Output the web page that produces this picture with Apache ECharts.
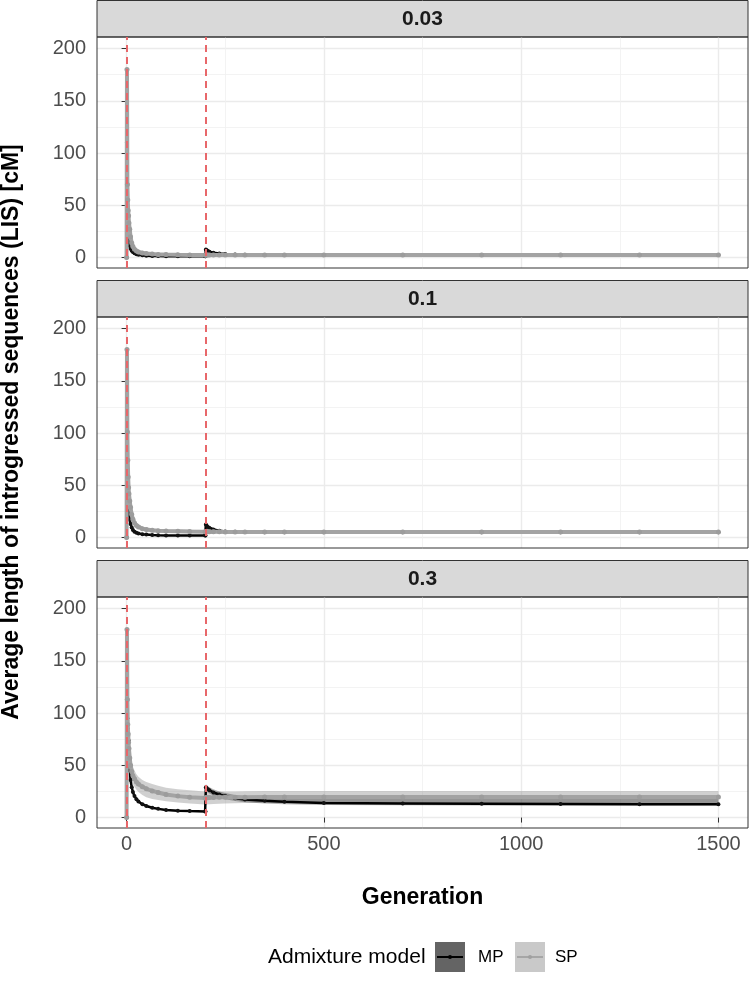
<!DOCTYPE html>
<html>
<head>
<meta charset="utf-8">
<script src="https://cdn.jsdelivr.net/npm/echarts@6/dist/echarts.min.js"></script>
<style>
  html, body { margin: 0; padding: 0; background: #fff; }
  #chart { width: 750px; height: 984px; }
</style>
</head>
<body>
<div id="chart"></div>
<script>
const GEN = [0, 1, 2, 3, 4, 5, 6, 8, 10, 13, 16, 20, 25, 30, 40, 50, 65, 80, 100, 130,
  160, 199, 200, 201, 203, 206, 210, 220, 235, 250, 275, 300, 350, 400, 500, 700, 900, 1100, 1300, 1500];

const X_TICKS = [0, 500, 1000, 1500];
const X_MINOR = [250, 750, 1250];
const Y_TICKS = [0, 50, 100, 150, 200];
const Y_MINOR = [25, 75, 125, 175];
const PULSES = [0, 200];
const PANEL_LABELS = ['0.03', '0.1', '0.3'];

// panel 0.03
const sp003Mean = [0, 180, 70, 55, 45, 40, 33, 27, 20, 14, 10.5, 8, 6.3, 5.3, 4.3, 3.8, 3.3, 3.0, 2.8, 2.6,
  2.5, 2.4, 2.4, 2.4, 2.4, 2.4, 2.4, 2.4, 2.4, 2.4, 2.4, 2.4, 2.4, 2.4, 2.4, 2.4, 2.4, 2.4, 2.4, 2.4];
const sp003Low = [0, 178, 66, 51, 41, 36, 29, 23, 16.5, 11.5, 8.5, 6.3, 4.9, 4.1, 3.2, 2.7, 2.3, 2.0, 1.7, 1.5,
  1.4, 1.2, 1.2, 1.2, 1.2, 1.2, 1.2, 1.2, 1.2, 1.2, 1.2, 1.2, 1.1, 1.1, 1.1, 1.1, 1.1, 1.1, 1.1, 1.1];
const sp003High = [0, 182, 74, 59, 49, 44, 37, 31, 23.5, 16.5, 12.5, 9.7, 7.7, 6.5, 5.4, 4.9, 4.3, 4.0, 3.9, 3.7,
  3.6, 3.6, 3.6, 3.6, 3.6, 3.6, 3.6, 3.6, 3.6, 3.6, 3.6, 3.6, 3.7, 3.7, 3.7, 3.7, 3.7, 3.7, 3.7, 3.7];
const mp003Mean = [0, 110, 40, 28, 22, 18, 15, 11, 8.5, 6.5, 5.2, 4.0, 3.2, 2.7, 2.1, 1.8, 1.5, 1.4, 1.3, 1.2,
  1.2, 1.2, 1.2, 7.8, 7.0, 6.3, 5.6, 4.6, 3.8, 3.3, 2.9, 2.7, 2.5, 2.4, 2.4, 2.4, 2.4, 2.4, 2.4, 2.4];
const mp003Low = [0, 108, 37, 25.5, 20, 16, 13, 9.5, 7.3, 5.5, 4.4, 3.3, 2.6, 2.2, 1.7, 1.4, 1.2, 1.1, 1.0, 0.9,
  0.9, 0.9, 0.9, 6.0, 5.3, 4.8, 4.2, 3.5, 2.9, 2.6, 2.3, 2.1, 2.0, 1.9, 1.9, 1.9, 1.9, 1.9, 1.9, 1.9];
const mp003High = [0, 112, 43, 30.5, 24, 20, 17, 12.5, 9.7, 7.5, 6.0, 4.7, 3.8, 3.2, 2.5, 2.2, 1.8, 1.7, 1.6, 1.5,
  1.5, 1.5, 1.5, 9.2, 8.4, 7.6, 6.8, 5.6, 4.6, 4.0, 3.5, 3.3, 3.0, 2.9, 2.9, 2.9, 2.9, 2.9, 2.9, 2.9];

// panel 0.1
const sp01Mean = [0, 180, 101, 74, 58, 48, 42, 35, 29, 22, 17.5, 14, 11.5, 10, 8.5, 7.6, 6.9, 6.5, 6.2, 6.0,
  5.8, 5.6, 5.6, 5.6, 5.6, 5.5, 5.5, 5.5, 5.5, 5.4, 5.4, 5.4, 5.3, 5.3, 5.3, 5.3, 5.3, 5.3, 5.3, 5.3];
const sp01Low = [0, 178, 97, 70, 54, 44, 38, 31, 25, 18.5, 14.5, 11.5, 9.3, 8.0, 6.7, 5.9, 5.3, 4.9, 4.6, 4.4,
  4.2, 4.0, 4.0, 4.0, 4.0, 3.9, 3.9, 3.9, 3.9, 3.9, 3.8, 3.8, 3.8, 3.8, 3.8, 3.8, 3.8, 3.8, 3.8, 3.8];
const sp01High = [0, 182, 105, 78, 62, 52, 46, 39, 33, 25.5, 20.5, 16.5, 13.7, 12, 10.3, 9.3, 8.5, 8.1, 7.8, 7.6,
  7.4, 7.2, 7.2, 7.2, 7.2, 7.1, 7.1, 7.1, 7.0, 7.0, 7.0, 6.9, 6.9, 6.8, 6.8, 6.8, 6.8, 6.8, 6.8, 6.8];
const mp01Mean = [0, 100, 57, 41, 33, 27, 23, 17, 13, 9.5, 7.3, 5.6, 4.5, 3.9, 3.2, 2.8, 2.4, 2.1, 1.9, 1.9,
  2.0, 2.0, 2.0, 12.5, 11.3, 10.2, 9.2, 7.7, 6.5, 5.9, 5.5, 5.3, 5.1, 5.0, 5.0, 5.0, 5.0, 5.0, 5.0, 5.0];
const mp01Low = [0, 98, 54, 38.5, 30.5, 25, 21, 15.5, 11.8, 8.5, 6.5, 5.0, 3.9, 3.4, 2.7, 2.3, 2.0, 1.7, 1.5, 1.5,
  1.6, 1.6, 1.6, 10.5, 9.5, 8.6, 7.7, 6.4, 5.4, 4.9, 4.5, 4.3, 4.1, 4.0, 4.0, 4.0, 4.0, 4.0, 4.0, 4.0];
const mp01High = [0, 102, 60, 43.5, 35.5, 29, 25, 18.5, 14.2, 10.5, 8.1, 6.2, 5.1, 4.4, 3.7, 3.3, 2.8, 2.5, 2.3, 2.3,
  2.4, 2.4, 2.4, 14.5, 13.1, 11.8, 10.7, 9.0, 7.6, 6.9, 6.5, 6.3, 6.1, 6.0, 6.0, 6.0, 6.0, 6.0, 6.0, 6.0];

// panel 0.3
const sp03Mean = [0, 180, 113, 89, 80, 72, 66, 57, 50, 44, 40, 37, 34, 32, 29.5, 27.5, 25.5, 24, 22, 20.5,
  19.5, 18.8, 18.8, 18.9, 19.0, 19.0, 19.1, 19.2, 19.3, 19.4, 19.5, 19.5, 19.6, 19.6, 19.7, 19.7, 19.7, 19.7, 19.7, 19.7];
const sp03Low = [0, 178, 109, 84, 74, 65, 58, 48, 41, 35.5, 32, 29.5, 26.5, 24.5, 21.5, 19.5, 17.8, 16.7, 15.6, 14.5,
  13.5, 12.5, 12.5, 12.5, 12.6, 12.7, 12.8, 13.0, 13.2, 13.4, 13.6, 13.8, 14, 14, 14, 14, 14, 14, 14, 14];
const sp03High = [0, 182, 117, 94, 86, 79, 74, 66, 59, 53, 48.5, 45, 41.5, 39, 36, 34, 32, 30.5, 28.6, 27,
  26, 25, 25, 25, 25, 25, 25, 25, 25, 25, 25, 25.2, 25.3, 25.4, 25.4, 25.4, 25.4, 25.4, 25.4, 25.4];
const mp03Mean = [0, 113, 95, 85, 78, 74, 63, 45, 36, 29, 24.5, 20.5, 17.5, 15.3, 12.7, 11.1, 9.4, 8.3, 7.3, 6.6,
  6.2, 5.9, 5.9, 29, 28, 27, 26, 24, 22, 20.5, 18.5, 17.3, 16, 15, 14, 13.5, 13.2, 13, 12.8, 12.7];
const mp03Low = [0, 111, 92, 82, 75, 71, 60, 42.5, 33.8, 27.2, 23, 19.2, 16.4, 14.3, 11.8, 10.3, 8.7, 7.6, 6.6, 5.9,
  5.5, 5.2, 5.2, 26, 25, 24, 23, 21, 19, 17.5, 15.8, 14.7, 13.5, 12.7, 12, 11.7, 11.6, 11.5, 11.5, 11.5];
const mp03High = [0, 115, 98, 88, 81, 77, 66, 47.5, 38.2, 30.8, 26, 21.8, 18.6, 16.3, 13.6, 11.9, 10.1, 9.0, 8.0, 7.3,
  6.9, 6.6, 6.6, 32, 31, 30, 29, 27, 25, 23.5, 21.5, 20.3, 19.5, 19.2, 19.2, 19.3, 19.4, 19.5, 19.5, 19.5];

const panels = [
  { label: PANEL_LABELS[0], sp: [sp003Mean, sp003Low, sp003High], mp: [mp003Mean, mp003Low, mp003High] },
  { label: PANEL_LABELS[1], sp: [sp01Mean, sp01Low, sp01High], mp: [mp01Mean, mp01Low, mp01High] },
  { label: PANEL_LABELS[2], sp: [sp03Mean, sp03Low, sp03High], mp: [mp03Mean, mp03Low, mp03High] },
];

const FONT = 'Liberation Sans, Arial, sans-serif';
const LEFT = 97, WIDTH = 651, STRIP = 37, PANEL_H = 231;
const TOPS = [0, 280, 560];

const chart = echarts.init(document.getElementById('chart'));

function pairs(vals) {
  return GEN.map((g, i) => [g, vals[i]]);
}

function ribbon(idx, low, high, color, z) {
  return {
    type: 'custom',
    xAxisIndex: idx * 2,
    yAxisIndex: idx * 2,
    silent: true,
    z: z,
    data: [[0, 0]],
    renderItem: function (params, api) {
      const pts = [];
      for (let i = 0; i < GEN.length; i++) pts.push(api.coord([GEN[i], high[i]]));
      for (let i = GEN.length - 1; i >= 0; i--) pts.push(api.coord([GEN[i], low[i]]));
      return { type: 'polygon', shape: { points: pts }, style: { fill: color } };
    }
  };
}

const plain = v => String(v);
const grids = [], xAxes = [], yAxes = [], series = [], graphics = [];

panels.forEach((p, i) => {
  const top = TOPS[i] + STRIP;
  const last = i === panels.length - 1;
  grids.push({ left: LEFT, width: WIDTH, top: top, height: PANEL_H, show: true,
    borderColor: '#333', borderWidth: 1, backgroundColor: 'transparent', z: 5 });

  // major x
  xAxes.push({
    gridIndex: i, type: 'value', min: -75, max: 1575,
    axisLine: { show: false },
    axisTick: { show: last, length: 5, customValues: X_TICKS, lineStyle: { color: '#333' } },
    axisLabel: { show: last, customValues: X_TICKS, formatter: plain, fontSize: 20, color: '#4d4d4d', fontFamily: FONT, margin: 6 },
    splitLine: { show: true, lineStyle: { color: '#ebebeb', width: 1.4 } }
  });
  // minor x grid
  xAxes.push({
    gridIndex: i, type: 'value', min: -75, max: 1575,
    axisLine: { show: false },
    axisTick: { show: false, customValues: X_MINOR },
    axisLabel: { show: false, customValues: X_MINOR },
    splitLine: { show: true, lineStyle: { color: '#f0f0f0', width: 0.8 } }
  });
  yAxes.push({
    gridIndex: i, type: 'value', min: -10, max: 211,
    axisLine: { show: false },
    axisTick: { show: true, length: 5, customValues: Y_TICKS, lineStyle: { color: '#333' } },
    axisLabel: { show: true, customValues: Y_TICKS, formatter: plain, fontSize: 20, color: '#4d4d4d', fontFamily: FONT, margin: 11 },
    splitLine: { show: true, lineStyle: { color: '#ebebeb', width: 1.4 } }
  });
  yAxes.push({
    gridIndex: i, type: 'value', min: -10, max: 211,
    axisLine: { show: false },
    axisTick: { show: false, customValues: Y_MINOR },
    axisLabel: { show: false, customValues: Y_MINOR },
    splitLine: { show: true, lineStyle: { color: '#f0f0f0', width: 0.8 } }
  });

  series.push(ribbon(i, p.sp[1], p.sp[2], 'rgba(150,150,150,0.45)', 1));
  series.push(ribbon(i, p.mp[1], p.mp[2], 'rgba(40,40,40,0.35)', 2));
  series.push({
    name: 'MP', type: 'line', xAxisIndex: i * 2, yAxisIndex: i * 2,
    data: pairs(p.mp[0]), symbol: 'circle', symbolSize: 4, showSymbol: true,
    itemStyle: { color: '#111' }, lineStyle: { color: '#000', width: 2.5 }, z: 3
  });
  series.push({
    name: 'SP', type: 'line', xAxisIndex: i * 2, yAxisIndex: i * 2,
    data: pairs(p.sp[0]), symbol: 'circle', symbolSize: 5, showSymbol: true,
    itemStyle: { color: '#9c9c9c' }, lineStyle: { color: '#a3a3a3', width: 4 }, z: 4,
    markLine: {
      silent: true, symbol: 'none', label: { show: false },
      lineStyle: { color: '#e8676a', type: [7, 5], width: 2 },
      data: PULSES.map(v => ({ xAxis: v }))
    }
  });

  // facet strip
  graphics.push({ type: 'rect', shape: { x: LEFT, y: TOPS[i] + 0.5, width: WIDTH, height: STRIP - 0.5 },
    style: { fill: '#d9d9d9', stroke: '#333', lineWidth: 1 } });
  graphics.push({ type: 'text', x: LEFT + WIDTH / 2, y: TOPS[i] + STRIP / 2 + 1,
    style: { text: p.label, font: 'bold 21px ' + FONT, fill: '#1a1a1a', align: 'center', verticalAlign: 'middle' } });
});

// axis titles
graphics.push({ type: 'text', x: 12, y: 432, rotation: Math.PI / 2,
  style: { text: 'Average length of introgressed sequences (LIS) [cM]', font: 'bold 23px ' + FONT,
    fill: '#000', align: 'center', verticalAlign: 'middle' } });
graphics.push({ type: 'text', x: LEFT + WIDTH / 2, y: 898,
  style: { text: 'Generation', font: 'bold 23px ' + FONT, fill: '#000', align: 'center', verticalAlign: 'middle' } });

// legend
graphics.push({ type: 'text', x: 268, y: 957,
  style: { text: 'Admixture model', font: '21px ' + FONT, fill: '#000', align: 'left', verticalAlign: 'middle' } });
graphics.push({ type: 'rect', shape: { x: 435, y: 942, width: 30, height: 30 }, style: { fill: '#646464' } });
graphics.push({ type: 'line', shape: { x1: 437, y1: 957, x2: 463, y2: 957 }, style: { stroke: '#000', lineWidth: 2 } });
graphics.push({ type: 'circle', shape: { cx: 450, cy: 957, r: 2 }, style: { fill: '#000' } });
graphics.push({ type: 'text', x: 478, y: 957,
  style: { text: 'MP', font: '17px ' + FONT, fill: '#000', align: 'left', verticalAlign: 'middle' } });
graphics.push({ type: 'rect', shape: { x: 515, y: 942, width: 30, height: 30 }, style: { fill: '#c9c9c9' } });
graphics.push({ type: 'line', shape: { x1: 517, y1: 957, x2: 543, y2: 957 }, style: { stroke: '#a6a6a6', lineWidth: 2 } });
graphics.push({ type: 'circle', shape: { cx: 530, cy: 957, r: 2 }, style: { fill: '#a0a0a0' } });
graphics.push({ type: 'text', x: 555, y: 957,
  style: { text: 'SP', font: '17px ' + FONT, fill: '#000', align: 'left', verticalAlign: 'middle' } });

chart.setOption({
  animation: false,
  backgroundColor: '#fff',
  grid: grids,
  xAxis: xAxes,
  yAxis: yAxes,
  series: series,
  graphic: graphics
});
</script>
</body>
</html>
